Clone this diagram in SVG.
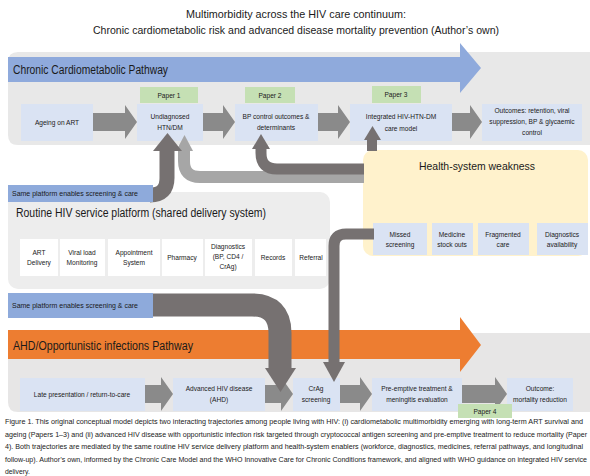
<svg xmlns="http://www.w3.org/2000/svg" width="590" height="476" viewBox="0 0 590 476">
  <style>
    text { font-family: "Liberation Sans", Arial, sans-serif; fill: #1a1a1a; }
    .title { font-size: 10.5px; text-anchor: middle; }
    .lane { font-size: 12.5px; }
    .box { fill: #dae3f3; }
    .wbox { fill: #ffffff; }
    .paper { fill: #c5e0b4; }
    .t { font-size: 6.6px; text-anchor: middle; }
    .tag { font-size: 6.8px; }
    .blk { fill: #8a8a8a; }
    .cap { font-size: 6.8px; fill: #222; }
    .dark { fill: none; stroke: #767171; }
    .light { fill: none; stroke: #a6a6a6; }
  </style>

  <!-- heading -->
  <g id="title">
    <text class="title" x="296" y="18" textLength="220" lengthAdjust="spacingAndGlyphs">Multimorbidity across the HIV care continuum:</text>
    <text class="title" x="296" y="34" textLength="406" lengthAdjust="spacingAndGlyphs">Chronic cardiometabolic risk and advanced disease mortality prevention (Author’s own)</text>
  </g>

  <!-- background panels -->
  <g id="panels">
    <path d="M18 52 H600 V145 H18 Q8 145 8 135 V62 Q8 52 18 52 Z" fill="#e8e8e8"/>
    <rect x="8" y="192" width="322" height="97" rx="10" fill="#ededed"/>
    <path d="M8 333 H600 V412 H18 Q8 412 8 402 Z" fill="#e7e6e6"/>
  </g>

  <!-- pathway arrows -->
  <g id="cardiometabolic-pathway">
    <polygon points="8,57 460,57 460,43 481,68 460,93 460,82 8,82" fill="#8faadc"/>
    <text class="lane" x="13" y="74" textLength="155" lengthAdjust="spacingAndGlyphs">Chronic Cardiometabolic Pathway</text>
  </g>
  <g id="ahd-pathway">
    <polygon points="8,330 460,330 460,317 481,345 460,372 460,359 8,359" fill="#ed7d31"/>
    <text class="lane" x="13" y="350" textLength="180" lengthAdjust="spacingAndGlyphs">AHD/Opportunistic infections Pathway</text>
  </g>

  <!-- cardiometabolic trajectory -->
  <g id="ageing">
    <rect class="box" x="21" y="104" width="72" height="37"/>
    <text class="t" x="57" y="125">Ageing on ART</text>
  </g>
  <g id="undiagnosed">
    <rect class="paper" x="140" y="87" width="58" height="16"/>
    <text class="t" x="169" y="97.5">Paper 1</text>
    <rect class="box" x="137" y="104" width="66" height="37"/>
    <text class="t" x="170" y="119">Undiagnosed</text>
    <text class="t" x="170" y="130">HTN/DM</text>
  </g>
  <g id="bp-control">
    <rect class="paper" x="245" y="87" width="50" height="16"/>
    <text class="t" x="270" y="97.5">Paper 2</text>
    <rect class="box" x="235" y="104" width="83" height="37"/>
    <text class="t" x="276" y="119">BP control outcomes &amp;</text>
    <text class="t" x="276" y="130">determinants</text>
  </g>
  <g id="integrated-care">
    <rect class="paper" x="372" y="86" width="49" height="17"/>
    <text class="t" x="396" y="97">Paper 3</text>
    <rect class="box" x="350" y="104" width="102" height="37"/>
    <text class="t" x="401" y="119">Integrated HIV-HTN-DM</text>
    <text class="t" x="401" y="131">care model</text>
  </g>
  <g id="chronic-outcomes">
    <rect class="box" x="482" y="104" width="100" height="37"/>
    <text class="t" x="532" y="113">Outcomes: retention, viral</text>
    <text class="t" x="532" y="124">suppression, BP &amp; glycaemic</text>
    <text class="t" x="532" y="135">control</text>
  </g>

  <!-- shared delivery platform -->
  <g id="routine-platform">
    <text x="16" y="217" font-size="12.5" textLength="250" lengthAdjust="spacingAndGlyphs">Routine HIV service platform (shared delivery system)</text>
    <rect class="wbox" x="20" y="239" width="38" height="37"/>
    <text class="t" x="39" y="255">ART</text>
    <text class="t" x="39" y="265">Delivery</text>
    <rect class="wbox" x="60" y="239" width="45" height="37"/>
    <text class="t" x="82" y="255">Viral load</text>
    <text class="t" x="82" y="265">Monitoring</text>
    <rect class="wbox" x="108" y="239" width="52" height="37"/>
    <text class="t" x="134" y="255">Appointment</text>
    <text class="t" x="134" y="265">System</text>
    <rect class="wbox" x="162" y="239" width="41" height="37"/>
    <text class="t" x="182" y="260">Pharmacy</text>
    <rect class="wbox" x="205" y="239" width="47" height="37"/>
    <text class="t" x="228" y="249">Diagnostics</text>
    <text class="t" x="228" y="259">(BP, CD4 /</text>
    <text class="t" x="228" y="269">CrAg)</text>
    <rect class="wbox" x="255" y="239" width="37" height="37"/>
    <text class="t" x="273" y="260">Records</text>
    <rect class="wbox" x="295" y="239" width="31" height="37"/>
    <text class="t" x="311" y="260">Referral</text>
  </g>

  <!-- health-system weakness -->
  <g id="health-system">
    <rect x="363" y="150" width="225" height="106" rx="10" fill="#fff2cc"/>
    <text x="477" y="170" font-size="11" text-anchor="middle" textLength="116" lengthAdjust="spacingAndGlyphs">Health-system weakness</text>
    <rect class="box" x="373" y="223" width="54" height="32"/>
    <text class="t" x="400" y="237">Missed</text>
    <text class="t" x="400" y="247">screening</text>
    <rect class="box" x="432" y="223" width="41" height="32"/>
    <text class="t" x="452" y="237">Medicine</text>
    <text class="t" x="452" y="247">stock outs</text>
    <rect class="box" x="478" y="223" width="51" height="32"/>
    <text class="t" x="503" y="237">Fragmented</text>
    <text class="t" x="503" y="247">care</text>
    <rect class="box" x="537" y="223" width="51" height="32"/>
    <text class="t" x="562" y="237">Diagnostics</text>
    <text class="t" x="562" y="247">availability</text>
  </g>

  <!-- AHD trajectory -->
  <g id="late-presentation">
    <rect class="box" x="20" y="378" width="125" height="33"/>
    <text class="t" x="82" y="397">Late presentation / return-to-care</text>
  </g>
  <g id="advanced-disease">
    <rect class="box" x="173" y="378" width="92" height="33"/>
    <text class="t" x="219" y="391">Advanced HIV disease</text>
    <text class="t" x="219" y="402">(AHD)</text>
  </g>
  <g id="crag-screening">
    <rect class="box" x="293" y="378" width="47" height="33"/>
    <text class="t" x="316" y="391">CrAg</text>
    <text class="t" x="316" y="402">screening</text>
  </g>
  <g id="preemptive-treatment">
    <rect class="box" x="372" y="378" width="90" height="33"/>
    <text class="t" x="417" y="391">Pre-emptive treatment &amp;</text>
    <text class="t" x="417" y="402">meningitis evaluation</text>
  </g>
  <g id="ahd-outcome">
    <rect class="box" x="507" y="378" width="66" height="33"/>
    <text class="t" x="540" y="391">Outcome:</text>
    <text class="t" x="540" y="402">mortality reduction</text>
  </g>

  <g id="connectors">
    <!-- step arrows along each trajectory -->
    <polygon class="blk" points="93,113 125,113 125,105 137,122 125,139 125,131 93,131"/>
    <polygon class="blk" points="203,113 223,113 223,105 235,122 223,139 223,131 203,131"/>
    <polygon class="blk" points="318,113 338,113 338,105 350,122 338,139 338,131 318,131"/>
    <polygon class="blk" points="452,113 470,113 470,105 482,122 470,139 470,131 452,131"/>
    <polygon class="blk" points="145,385 161,385 161,377 173,394 161,411 161,403 145,403"/>
    <polygon class="blk" points="265,385 281,385 281,377 293,394 281,411 281,403 265,403"/>
    <polygon class="blk" points="340,385 360,385 360,377 372,394 360,411 360,403 340,403"/>
    <polygon class="blk" points="462,385 495,385 495,377 507,394 495,411 495,403 462,403"/>

    <!-- health-system weakness feeding the chronic pathway -->
    <path class="light" d="M364 177 H200 Q184 177 184 161 V150" stroke-width="12"/>
    <polygon points="176,151 193,151 184.5,135" fill="#a6a6a6"/>
    <path class="dark" d="M364 169 H277 Q261 169 261 153 V148" stroke-width="11"/>
    <polygon points="252,149 270,149 261,134" fill="#767171"/>
    <path class="dark" d="M372 151 V139" stroke-width="10"/>
    <polygon points="364,140 381,140 372.5,126" fill="#767171"/>

    <!-- shared platform feeding screening -->
    <path class="dark" d="M150 195 Q167 195 167 178 V150" stroke-width="15"/>
    <polygon points="153,151 182,151 167.5,133" fill="#767171"/>
    <path class="dark" d="M150 305 H252 Q280 305 280 333 V370" stroke-width="23"/>
    <polygon points="265,368 296,368 280.5,392" fill="#767171"/>

    <!-- missed screening to CrAg -->
    <path class="dark" d="M374 234 H346 Q334 234 334 246 V364" stroke-width="11"/>
    <polygon points="323,362 345,362 334,382" fill="#767171"/>
  </g>

  <!-- platform tags -->
  <g id="platform-tag-1">
    <rect x="8" y="185" width="145" height="17" fill="#8eaadb"/>
    <text class="tag" x="12" y="196" textLength="126" lengthAdjust="spacingAndGlyphs">Same platform enables screening &amp; care</text>
  </g>
  <g id="platform-tag-2">
    <rect x="8" y="293" width="145" height="25" fill="#8eaadb"/>
    <text class="tag" x="12" y="308" textLength="126" lengthAdjust="spacingAndGlyphs">Same platform enables screening &amp; care</text>
  </g>
  <g id="paper-4">
    <rect class="paper" x="458" y="404" width="54" height="14"/>
    <text class="t" x="485" y="413.5">Paper 4</text>
  </g>

  <!-- caption -->
  <g id="caption">
    <text class="cap" x="5" y="424" textLength="578" lengthAdjust="spacingAndGlyphs">Figure 1. This original conceptual model depicts two interacting trajectories among people living with HIV: (i) cardiometabolic multimorbidity emerging with long-term ART survival and</text>
    <text class="cap" x="5" y="436.5" textLength="582" lengthAdjust="spacingAndGlyphs">ageing (Papers 1–3) and (ii) advanced HIV disease with opportunistic infection risk targeted through cryptococcal antigen screening and pre-emptive treatment to reduce mortality (Paper</text>
    <text class="cap" x="5" y="449" textLength="578" lengthAdjust="spacingAndGlyphs">4). Both trajectories are mediated by the same routine HIV service delivery platform and health-system enablers (workforce, diagnostics, medicines, referral pathways, and longitudinal</text>
    <text class="cap" x="5" y="461.5" textLength="582" lengthAdjust="spacingAndGlyphs">follow-up). Author’s own, informed by the Chronic Care Model and the WHO Innovative Care for Chronic Conditions framework, and aligned with WHO guidance on integrated HIV service</text>
    <text class="cap" x="5" y="474">delivery.</text>
  </g>
</svg>
